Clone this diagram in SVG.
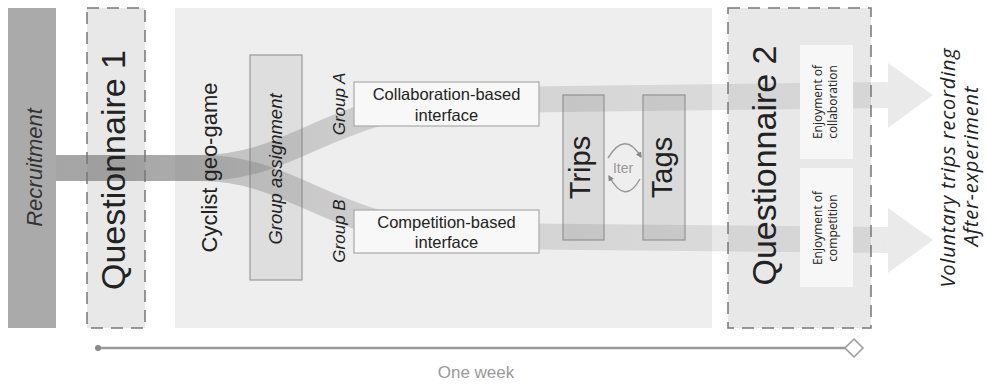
<svg xmlns="http://www.w3.org/2000/svg" width="988" height="387" viewBox="0 0 988 387">
<style>
.t{font-family:"Liberation Sans",Arial,sans-serif;fill:#222;}
.it{font-style:italic;}
.os{font-family:"Open Sans","DejaVu Sans",sans-serif;fill:#222;}
.dash{fill:none;stroke:#777;stroke-width:1.5;stroke-dasharray:12 8;}
.gbox{fill:#dadada;stroke:#999;stroke-width:1.2;}
.wbox{fill:#f8f8f8;stroke:#aaa;stroke-width:1.2;}
.band{fill:none;stroke:url(#bg);stroke-width:26;}
.iter{fill:none;stroke:#999;stroke-width:1.5;marker-end:url(#ah);}
</style>
<defs>
<linearGradient id="bg" gradientUnits="userSpaceOnUse" x1="56" y1="0" x2="933" y2="0">
<stop offset="0" stop-color="#777" stop-opacity="0.42"/>
<stop offset="0.164" stop-color="#777" stop-opacity="0.38"/>
<stop offset="0.39" stop-color="#777" stop-opacity="0.25"/>
<stop offset="0.757" stop-color="#777" stop-opacity="0.17"/>
<stop offset="1" stop-color="#777" stop-opacity="0.15"/>
</linearGradient>
<marker id="ah" viewBox="0 0 10 10" refX="8" refY="5" markerWidth="6" markerHeight="6" orient="auto" markerUnits="userSpaceOnUse">
<path d="M0,0 L10,5 L0,10 z" fill="#888"/>
</marker>
</defs>

<g id="recruitment">
<rect x="8" y="8" width="48" height="320" fill="#aaa"/>
<text class="t it" font-size="22" text-anchor="middle" transform="translate(42,167.5) rotate(-90)" style="fill:#333">Recruitment</text>
</g>

<g id="questionnaire1-bg"><rect x="87" y="8" width="58" height="320" fill="#e8e8e8"/></g>
<g id="geo-game-bg"><rect x="175" y="8" width="537" height="320" fill="#eee"/></g>
<g id="questionnaire2-bg"><rect x="728" y="8" width="143" height="320" fill="#e8e8e8"/></g>

<g id="group-assignment-box"><rect class="gbox" x="250" y="55" width="52" height="225" style="fill:#dedede"/></g>
<g id="trips-box"><rect class="gbox" x="563" y="95" width="41" height="145"/></g>
<g id="tags-box"><rect class="gbox" x="643" y="95" width="42" height="145"/></g>

<g id="connectors">
<path class="band" d="M56,168 H200 C300,168 330,100 480,100 L888,95"/>
<path class="band" d="M56,168 H200 C300,168 330,236 480,236 L888,240"/>
<polygon points="888,63 933,95 888,128" fill="url(#bg)"/>
<polygon points="888,208 933,240 888,273" fill="url(#bg)"/>
<path class="iter" d="M608,158 Q625,130 641,157"/>
<path class="iter" d="M640,179 Q625,206 609,176"/>
<line x1="98" y1="348" x2="845" y2="348" stroke="#999" stroke-width="2.5"/>
<circle cx="98" cy="348" r="3" fill="#888"/>
<polygon points="845,348 854,339 863,348 854,357" fill="#fff" stroke="#999" stroke-width="1.5"/>
</g>

<g id="questionnaire1">
<rect class="dash" x="87" y="8" width="58" height="320"/>
<text class="t" font-size="34" text-anchor="middle" transform="translate(125,170) rotate(-90)">Questionnaire 1</text>
</g>

<g id="geo-game">
<text class="t" font-size="22" text-anchor="middle" transform="translate(217,167.5) rotate(-90)">Cyclist geo-game</text>
</g>

<g id="group-assignment">
<text class="t it" font-size="18.5" text-anchor="middle" transform="translate(282,169) rotate(-90)">Group assignment</text>
</g>

<g id="group-a">
<text class="t it" font-size="17" text-anchor="middle" transform="translate(345,104) rotate(-90)">Group A</text>
</g>
<g id="group-b">
<text class="t it" font-size="17" text-anchor="middle" transform="translate(345,231) rotate(-90)">Group B</text>
</g>

<g id="collaboration-interface">
<rect class="wbox" x="354" y="82" width="185" height="44"/>
<text class="t" font-size="16.5" text-anchor="middle" x="446.5" y="100">Collaboration-based</text>
<text class="t" font-size="16.5" text-anchor="middle" x="446.5" y="121">interface</text>
</g>

<g id="competition-interface">
<rect class="wbox" x="354" y="210" width="185" height="43"/>
<text class="t" font-size="16.5" text-anchor="middle" x="446.5" y="228">Competition-based</text>
<text class="t" font-size="16.5" text-anchor="middle" x="446.5" y="248">interface</text>
</g>

<g id="trips">
<text class="t" font-size="29" text-anchor="middle" transform="translate(590,167.5) rotate(-90)">Trips</text>
</g>
<g id="tags">
<text class="t" font-size="29" text-anchor="middle" transform="translate(672,167.5) rotate(-90)">Tags</text>
</g>
<g id="iter">
<text class="t" font-size="14" text-anchor="middle" x="623" y="173" style="fill:#999">Iter</text>
</g>

<g id="questionnaire2">
<rect class="dash" x="728" y="8" width="143" height="320"/>
<text class="t" font-size="34" text-anchor="middle" transform="translate(776,165.5) rotate(-90)">Questionnaire 2</text>
</g>

<g id="enjoyment-collaboration">
<rect x="800" y="45" width="53" height="114" fill="#f7f7f7"/>
<text class="os" font-size="12" text-anchor="middle" transform="translate(822,102) rotate(-90)">Enjoyment of</text>
<text class="os" font-size="12" text-anchor="middle" transform="translate(837,102) rotate(-90)">collaboration</text>
</g>
<g id="enjoyment-competition">
<rect x="800" y="168" width="53" height="119" fill="#f7f7f7"/>
<text class="os" font-size="12" text-anchor="middle" transform="translate(822,228) rotate(-90)">Enjoyment of</text>
<text class="os" font-size="12" text-anchor="middle" transform="translate(837,228) rotate(-90)">competition</text>
</g>

<g id="after-experiment">
<text class="os it" font-size="20" letter-spacing="0.8" text-anchor="middle" transform="translate(955,167.5) rotate(-90)">Voluntary trips recording</text>
<text class="os it" font-size="20" letter-spacing="0.8" text-anchor="middle" transform="translate(978,166) rotate(-90)">After-experiment</text>
</g>

<g id="timeline-label">
<text class="t" font-size="17" text-anchor="middle" x="476" y="378" style="fill:#999">One week</text>
</g>
</svg>
